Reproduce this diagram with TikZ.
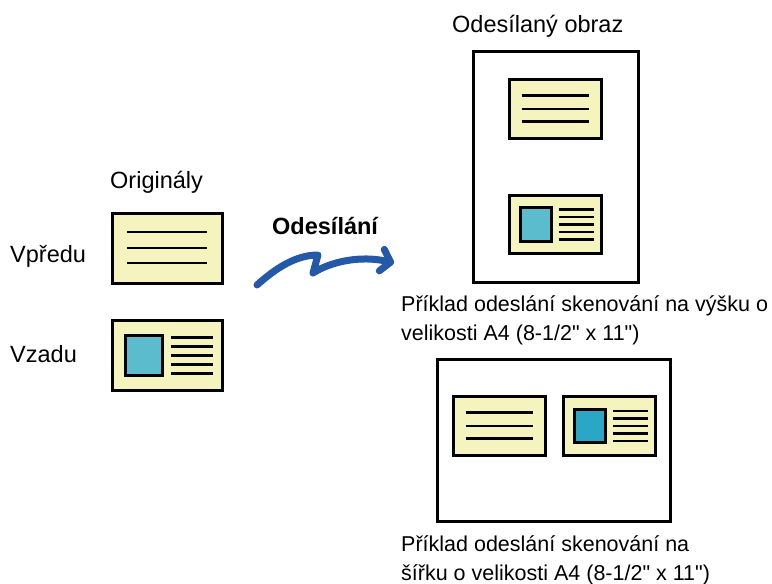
\documentclass[tikz,border=0pt]{standalone}
\usepackage{fontspec}
\setmainfont{Liberation Sans}
\usetikzlibrary{arrows.meta}
\definecolor{cardyellow}{RGB}{245,244,190}
\definecolor{photoblue}{RGB}{91,188,206}
\definecolor{phototeal}{RGB}{42,167,196}
\definecolor{arrowblue}{RGB}{36,88,168}

\tikzset{
  card/.style={draw=black,line width=3pt,fill=cardyellow},
  txtline/.style={line width=2.5pt},
  page/.style={draw=black,line width=3pt},
  txt/.style={inner sep=0pt,anchor=base west},
  captxt/.style={txt,align=left,font=\fontsize{21.5pt}{28.5pt}\selectfont},
  pics/frontcard/.style={code={
    \draw[card] (-55,-35) rectangle (55,35);
    \foreach \y in {-16,0,15}
      {\draw[txtline] (-40,\y) -- (40,\y);}
  }},
  pics/backcard/.style={code={
    \draw[card] (-55,-35) rectangle (55,35);
    \draw[line width=3pt,fill=#1] (-42,-20) rectangle (-5,20);
    \foreach \y in {-18,-9,0,9,18}
      {\draw[txtline] (4,\y) -- (46,\y);}
  }},
}

\begin{document}
\begin{tikzpicture}[x=1pt,y=-1pt,font=\fontsize{23.5pt}{28pt}\selectfont]
 \useasboundingbox (0,0) rectangle (772,584);
 % originals
 \node[txt] (orig) at (110,188) {Originály};
 \node[txt] (front) at (10,262) {Vpředu};
 \node[txt] (back) at (10,362) {Vzadu};
 \pic at (167,248) {frontcard};
 \pic at (167,355.5) {backcard=photoblue};
 % sending arrow
 \node[txt] (send) at (272,234) {\bfseries Odesílání};
 \coordinate (arrS) at (257,285);
 \coordinate (arrE) at (394,263);
 \draw[arrowblue,line width=7pt,line cap=round,line join=round,
   -{Straight Barb[length=9pt,width=22pt,round]}]
   (arrS) .. controls (276,268) and (296,255) .. (318,255)
   -- (313,273) .. controls (330,262) and (360,255) .. (arrE);
 % portrait result
 \node[txt] (sent) at (452,32) {Odesílaný obraz};
 \draw[page] (473,51) rectangle (638,282);
 \pic[xscale=0.845,yscale=0.83] at (555.5,109) {frontcard};
 \pic[xscale=0.845,yscale=0.83] at (555.5,224.5) {backcard=photoblue};
 \node[captxt] (portex) at (401,340)
   {Příklad odeslání skenování na výšku o\\velikosti A4 (8-1/2\textquotedbl{} x 11\textquotedbl)};
 % landscape result
 \draw[page] (437,359) rectangle (670,521);
 \pic[xscale=0.845,yscale=0.83] at (499.5,426) {frontcard};
 \pic[xscale=0.845,yscale=0.83] at (609.5,426) {backcard=phototeal};
 \node[captxt] (landex) at (401,580)
   {Příklad odeslání skenování na\\šířku o velikosti A4 (8-1/2\textquotedbl{} x 11\textquotedbl)};
\end{tikzpicture}
\end{document}
